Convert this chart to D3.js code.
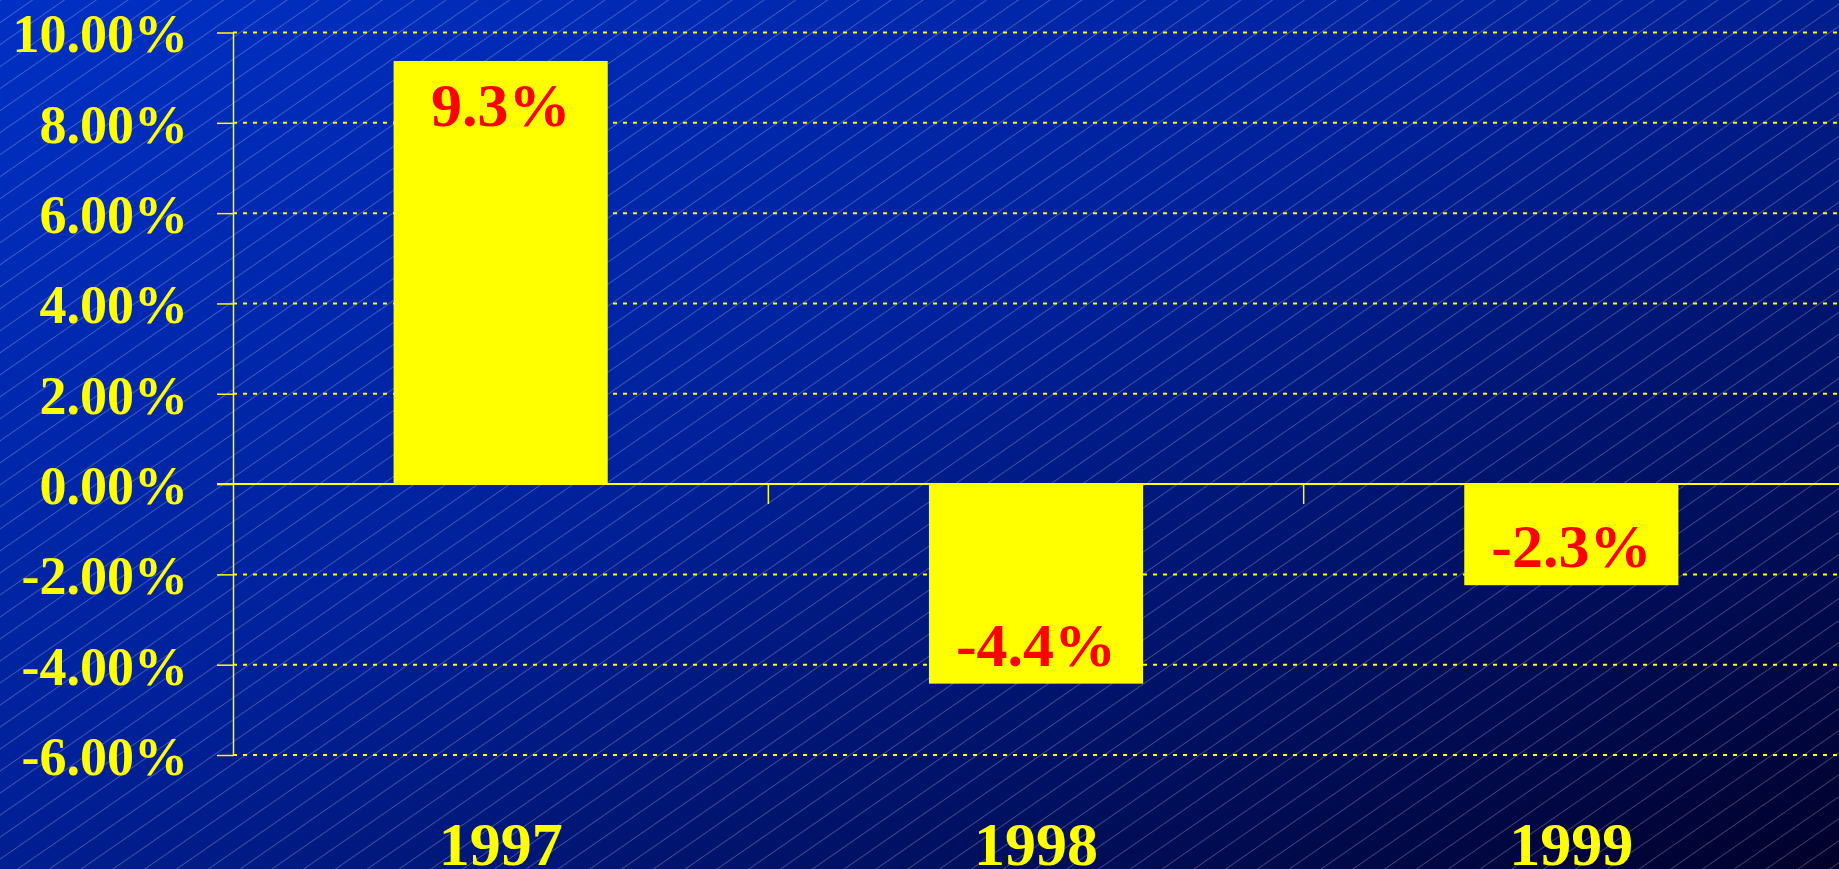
<!DOCTYPE html>
<html>
<head>
<meta charset="utf-8">
<script src="https://cdn.jsdelivr.net/npm/d3@7"></script>
<style>
  html, body { margin: 0; padding: 0; overflow: hidden; background: #001a80; }
  text { font-family: "Liberation Serif", "Times New Roman", serif; font-weight: bold; }
</style>
</head>
<body>
<div id="chart"></div>
<script>
// data (bar heights, labels as printed)
var years = ["1997", "1998", "1999"];
var growth = [9.37, -4.42, -2.24];
var growthLabels = ["9.3%", "-4.4%", "-2.3%"];
var yTicks = [-6, -4, -2, 0, 2, 4, 6, 8, 10];

var W = 1839, H = 869;
var margin = {top: 32.5, right: 0, bottom: 114, left: 233};
var width = W - margin.left - margin.right,
    height = H - margin.top - margin.bottom;

var svg = d3.select("#chart")
  .append("svg")
    .attr("width", W)
    .attr("height", H);

// background gradient + hatch
var defs = svg.append("defs");
var grad = defs.append("linearGradient")
    .attr("id", "bg")
    .attr("x1", "0").attr("y1", "0")
    .attr("x2", "1").attr("y2", "1");
grad.append("stop").attr("offset", "0").attr("stop-color", "#0030c4");
grad.append("stop").attr("offset", "0.45").attr("stop-color", "#00219a");
grad.append("stop").attr("offset", "0.75").attr("stop-color", "#001060");
grad.append("stop").attr("offset", "1").attr("stop-color", "#00002a");

var hatch = defs.append("pattern")
    .attr("id", "hatch")
    .attr("patternUnits", "userSpaceOnUse")
    .attr("width", 200)
    .attr("height", 18.1)
    .attr("patternTransform", "rotate(-34.7)");
hatch.append("line")
    .attr("x1", 0).attr("x2", 200)
    .attr("y1", 0.5).attr("y2", 0.5)
    .attr("stroke", "#ffffff")
    .attr("stroke-opacity", 0.24)
    .attr("stroke-width", 1);

svg.append("rect").attr("width", W).attr("height", H).attr("fill", "url(#bg)");
svg.append("rect").attr("width", W).attr("height", H).attr("fill", "url(#hatch)");

var g = svg.append("g")
    .attr("transform", "translate(" + margin.left + "," + margin.top + ")");

var x = d3.scaleBand()
    .domain(years)
    .range([0, width])
    .paddingInner(0.6)
    .paddingOuter(0.3);

var y = d3.scaleLinear()
    .domain([-6, 10])
    .range([height, 0]);

var yellow = "#ffff00";

// dotted grid lines
g.append("g")
    .attr("class", "grid")
    .selectAll("line")
    .data(yTicks.filter(function(d) { return d != 0; }))
    .enter().append("line")
      .attr("x1", 0)
      .attr("x2", width)
      .attr("y1", function(d) { return y(d); })
      .attr("y2", function(d) { return y(d); })
      .attr("stroke", yellow)
      .attr("stroke-width", 2)
      .attr("stroke-dasharray", "4,6");

// y axis
var yAxis = g.append("g")
    .call(d3.axisLeft(y)
      .tickValues(yTicks)
      .tickSize(16)
      .tickSizeOuter(0)
      .tickPadding(29)
      .tickFormat(function(d) { return d.toFixed(2) + "%"; }));
yAxis.select(".domain").attr("stroke", yellow).attr("stroke-width", 1.5);
yAxis.selectAll(".tick line").attr("stroke", yellow).attr("stroke-width", 1.5);
yAxis.selectAll(".tick text")
    .attr("fill", yellow)
    .attr("dy", "0.36em")
    .style("font-size", "54px")
    .style("font-family", "'Liberation Serif', 'Times New Roman', serif")
    .style("font-weight", "bold");

// bars
g.append("g")
    .selectAll("rect")
    .data(growth)
    .enter().append("rect")
      .attr("x", function(d, i) { return x(years[i]); })
      .attr("y", function(d) { return y(Math.max(0, d)); })
      .attr("width", x.bandwidth())
      .attr("height", function(d) { return Math.abs(y(d) - y(0)); })
      .attr("fill", yellow);

// zero line
g.append("line")
    .attr("x1", -16)
    .attr("x2", width)
    .attr("y1", y(0))
    .attr("y2", y(0))
    .attr("stroke", yellow)
    .attr("stroke-width", 2);

// category boundary ticks
var step = x.step();
g.append("g")
    .selectAll("line")
    .data(years.slice(0, years.length - 1))
    .enter().append("line")
      .attr("x1", function(d) { return x(d) + x.bandwidth() + (step - x.bandwidth()) / 2; })
      .attr("x2", function(d) { return x(d) + x.bandwidth() + (step - x.bandwidth()) / 2; })
      .attr("y1", y(0))
      .attr("y2", y(0) + 20)
      .attr("stroke", yellow)
      .attr("stroke-width", 1.5);

// value labels
g.append("g")
    .selectAll("text")
    .data(growth)
    .enter().append("text")
      .attr("x", function(d, i) { return x(years[i]) + x.bandwidth() / 2; })
      .attr("y", function(d) { return d >= 0 ? y(d) + 65 : y(d) - 18; })
      .attr("text-anchor", "middle")
      .attr("fill", "#ff0000")
      .style("font-size", "62px")
      .text(function(d, i) { return growthLabels[i]; });

// category labels
g.append("g")
    .selectAll("text")
    .data(years)
    .enter().append("text")
      .attr("x", function(d) { return x(d) + x.bandwidth() / 2; })
      .attr("y", height + 110)
      .attr("text-anchor", "middle")
      .attr("fill", yellow)
      .style("font-size", "62px")
      .text(function(d) { return d; });
</script>
</body>
</html>
